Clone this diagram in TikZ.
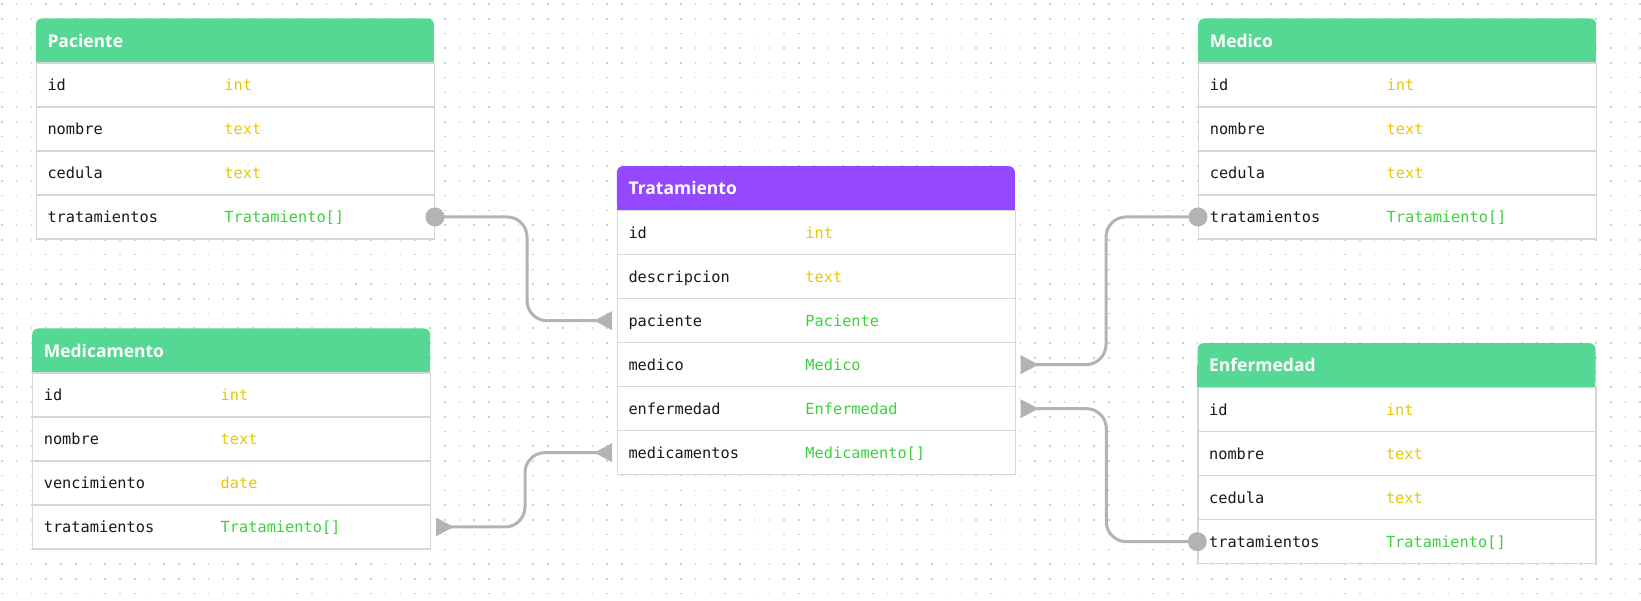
\documentclass[tikz,border=0pt]{standalone}
\usepackage{fontspec}
\setmonofont{DejaVu Sans Mono}
\newfontfamily\titlefont{Open Sans}
\usetikzlibrary{arrows.meta}
\definecolor{headgreen}{HTML}{55D893}
\definecolor{headpurple}{HTML}{9448FF}
\definecolor{basetype}{HTML}{E8C70A}
\definecolor{reftype}{HTML}{3DD13D}
\definecolor{rowborder}{HTML}{D6D6D6}
\definecolor{linkgray}{HTML}{B3B3B3}
\definecolor{griddot}{HTML}{CFCFCF}
\newcommand{\Table}[5]%
% nom, x, y, couleur du titre, lignes
{
    % barre de titre (coins du bas carrés)
    \fill[#4] (#2,#3+22) rectangle (#2+398,#3+44);
    \node[header, fill=#4, anchor=north west] (#1) at (#2,#3) {#1};

    % une ligne par champ
    \foreach \f/\t/\c [count=\i] in {#5}
    {
        \node[row, anchor=north west] (#1-\i) at (#2,#3+44*\i) {};
        \node[fieldname] (#1-\i-f)
            at ([xshift=11.6pt, yshift=-5.7pt]#1-\i.west) {\f};
        \node[fieldtype, text=\c] (#1-\i-t)
            at ([xshift=188.5pt, yshift=-5.7pt]#1-\i.west) {\t};
    }
}
\newcommand{\Dot}[1]%
% point au départ d'une liaison
{   \fill[linkgray] (#1) circle[radius=9.5pt]; }

\begin{document}
\begin{tikzpicture}
[   x=1pt, y=-1pt,
    header/.style={rectangle, rounded corners=6pt, minimum width=398pt,
        minimum height=44pt, text width=374.8pt, inner xsep=11.6pt,
        inner ysep=0pt, align=left, text=white,
        font=\titlefont\bfseries\fontsize{17.5}{19}\selectfont},
    row/.style={rectangle, draw=rowborder, line width=1.3pt, fill=white,
        minimum width=398pt, minimum height=44pt, inner sep=0pt},
    fieldname/.style={anchor=base west, inner sep=0pt, text=black!90,
        font=\ttfamily\fontsize{15.3}{18}\selectfont},
    fieldtype/.style={fieldname},
    link/.style={draw=linkgray, line width=3pt, rounded corners=20pt},
    crow/.tip={Triangle[reversed, length=18pt, width=18pt]}
]
    \useasboundingbox (0,0) rectangle (1641,601);

    % fond pointillé
    \foreach \j in {0,...,40}
    {   \draw[griddot, line width=1.6pt, dash pattern=on 1.6pt off 13.16pt]
        (1.1,4+14.74*\j) -- (1641,4+14.74*\j);
    }

    % tables
    \Table{Paciente}{35.7}{18.3}{headgreen}%
    {id/int/basetype, nombre/text/basetype, cedula/text/basetype,
     tratamientos/Tratamiento[]/reftype}
    \Table{Medico}{1198}{18.3}{headgreen}%
    {id/int/basetype, nombre/text/basetype, cedula/text/basetype,
     tratamientos/Tratamiento[]/reftype}
    \Table{Tratamiento}{616.7}{166}{headpurple}%
    {id/int/basetype, descripcion/text/basetype, paciente/Paciente/reftype,
     medico/Medico/reftype, enfermedad/Enfermedad/reftype,
     medicamentos/Medicamento[]/reftype}
    \Table{Medicamento}{32}{328.3}{headgreen}%
    {id/int/basetype, nombre/text/basetype, vencimiento/date/basetype,
     tratamientos/Tratamiento[]/reftype}
    \Table{Enfermedad}{1197.3}{343}{headgreen}%
    {id/int/basetype, nombre/text/basetype, cedula/text/basetype,
     tratamientos/Tratamiento[]/reftype}

    % liaisons
    \draw[link, -{crow}] (Paciente-4.east) -- ++(92,0)
        |- ([xshift=-4.7pt]Tratamiento-3.west);
    \draw[link, -{crow}] (Medico-4.west) -- ++(-92,0)
        |- ([xshift=4.7pt]Tratamiento-4.east);
    \draw[link, -{crow}] (Enfermedad-4.west) -- ++(-91,0)
        |- ([xshift=4.7pt]Tratamiento-5.east);
    \draw[link, {crow}-{crow}] ([xshift=4.7pt]Medicamento-4.east) -- ++(89,0)
        |- ([xshift=-4.7pt]Tratamiento-6.west);
    \Dot{Paciente-4.east}
    \Dot{Medico-4.west}
    \Dot{Enfermedad-4.west}
\end{tikzpicture}
\end{document}
